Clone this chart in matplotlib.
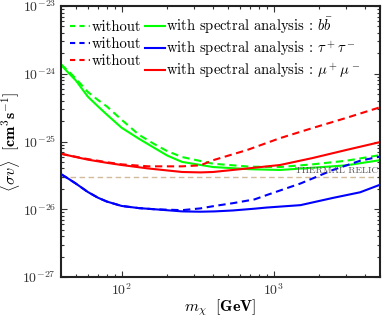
import matplotlib

matplotlib.use("Agg")
import matplotlib.pyplot as plt
from matplotlib.lines import Line2D

plt.rcParams["font.family"] = "serif"
plt.rcParams["font.serif"] = ["cmr10", "DejaVu Serif"]
plt.rcParams["mathtext.fontset"] = "cm"
plt.rcParams["axes.formatter.use_mathtext"] = True
plt.rcParams["axes.unicode_minus"] = False

# values, <sigma v> in units of 1e-26 cm^3/s
bb_mass = [40, 45, 50, 60, 70, 80, 100, 130, 165, 200, 250, 400, 700, 1100, 1800, 3000, 5000]
bb_with = [135, 102, 80, 46, 33, 25, 16, 11.0, 8.0, 6.2, 5.0, 4.2, 3.9, 3.8, 4.1, 4.45, 5.3]
bb_without = [138, 108, 85, 54, 41, 33, 21, 12.6, 9.1, 7.2, 5.9, 4.7, 4.25, 4.2, 4.6, 5.2, 6.3]

tau_mass = [40, 45, 50, 60, 70, 80, 100, 130, 165, 250, 330, 410, 540, 750, 900, 1500, 2450, 3700, 5000]
tau_with = [3.3, 2.8, 2.4, 1.8, 1.48, 1.3, 1.12, 1.04, 1.0, 0.93, 0.92, 0.93, 0.96, 1.02, 1.06, 1.15, 1.47, 1.78, 2.3]
tau_without = [3.3, 2.8, 2.4, 1.8, 1.48, 1.3, 1.12, 1.04, 1.0, 0.97, 1.03, 1.12, 1.23, 1.4, 1.62, 2.4, 3.8, 5.2, 6.0]

mu_mass = [40, 50, 60, 80, 100, 150, 250, 330, 400, 670, 1100, 1800, 3000, 5000]
mu_with = [6.6, 5.9, 5.4, 4.85, 4.5, 4.0, 3.55, 3.5, 3.55, 4.0, 4.5, 5.7, 7.5, 9.8]
mu_without = [6.6, 5.95, 5.5, 4.95, 4.6, 4.3, 4.3, 4.45, 5.3, 7.5, 11.2, 15.8, 22.3, 32.0]

thermal_relic = 3.0
channels = ["b\\bar{b}", "\\tau^+\\tau^-", "\\mu^+\\mu^-"]
colors = ["#00ff00", "#0000ff", "#ff0000"]

scale = 1e-26
fig = plt.figure(figsize=(3.82, 3.18), dpi=100)
ax = fig.add_axes([0.1597, 0.1289, 0.835, 0.8522])

series = [
    (bb_mass, bb_with, bb_without),
    (tau_mass, tau_with, tau_without),
    (mu_mass, mu_with, mu_without),
]
dashed_handles, solid_handles = [], []
for (mass, with_sa, without_sa), color, channel in zip(series, colors, channels):
    ax.plot(mass, [v * scale for v in without_sa], color=color, lw=1.5, ls="--", dashes=(3.5, 2.2))
    ax.plot(mass, [v * scale for v in with_sa], color=color, lw=1.5)
    dashed_handles.append(Line2D([], [], color=color, lw=1.5, ls="--", dashes=(2.5, 2.0)))
    solid_handles.append(Line2D([], [], color=color, lw=1.5))

ax.axhline(thermal_relic * scale, color="#d2bb98", lw=1.0, ls="--", dashes=(4, 2.5), zorder=0)
ax.text(4900, thermal_relic * scale * 1.05, "THERMAL RELIC", fontsize=7, color="#555555",
        ha="right", va="bottom")

ax.set_xscale("log")
ax.set_yscale("log")
ax.set_xlim(40, 5000)
ax.set_ylim(1e-27, 1e-23)
ax.tick_params(which="both", direction="in", top=True, right=True, labelsize=10, colors="#333333")
ax.tick_params(which="major", length=4.5, width=0.8)
ax.tick_params(which="minor", length=2.5, width=0.8)
for spine in ax.spines.values():
    spine.set_linewidth(1.5)
    spine.set_color("#222222")

ax.set_xlabel(r"$m_\chi\ \ \mathbf{[GeV]}$", fontsize=11.5, labelpad=0)
ax.set_ylabel(r"$\langle \sigma v \rangle\ \ \mathbf{[cm^3 s^{-1}]}$", fontsize=11.5, labelpad=0)

labels = ["without"] * 3 + [f"with spectral analysis : ${c}$" for c in channels]
ax.legend(dashed_handles + solid_handles, labels, ncol=2, loc="upper left", frameon=False,
          fontsize=10.5, handlelength=1.35, handletextpad=0.1, columnspacing=0.25,
          labelspacing=0.22, borderaxespad=0.45, borderpad=0.2)

fig.savefig("out.png", dpi=100)
